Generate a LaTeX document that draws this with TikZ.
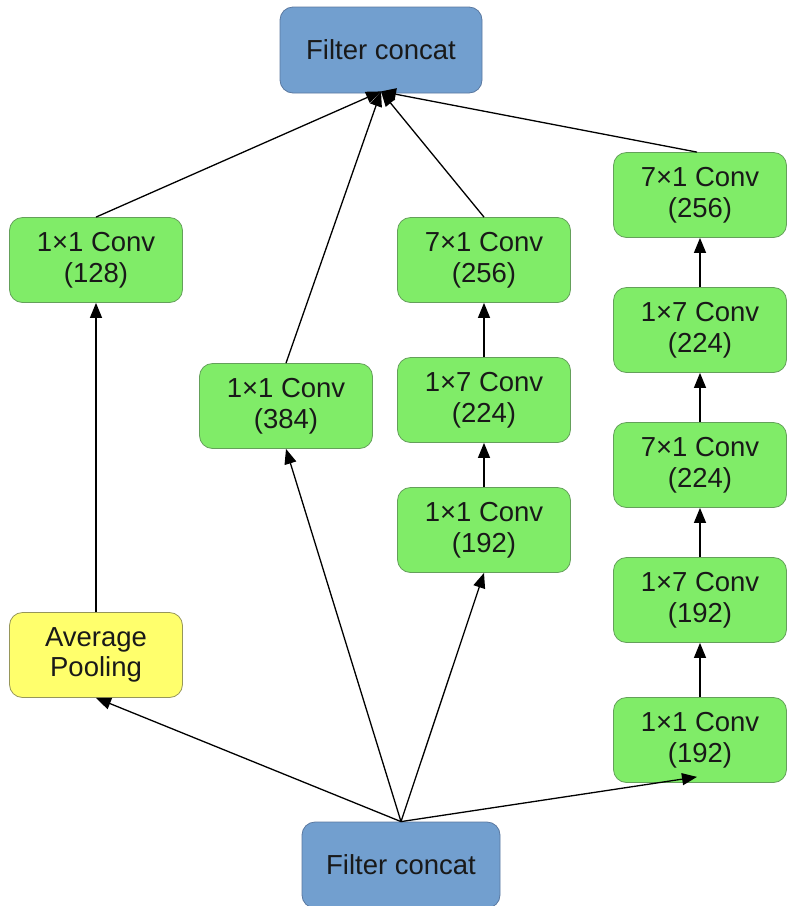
\documentclass[tikz,border=0pt]{standalone}
\usepackage{fontspec}
\setmainfont{Liberation Sans}
\usetikzlibrary{arrows.meta}
\definecolor{concatfill}{RGB}{114,159,207}
\definecolor{concatline}{RGB}{90,120,160}
\definecolor{convfill}{RGB}{128,236,104}
\definecolor{convline}{RGB}{100,160,90}
\definecolor{poolfill}{RGB}{255,255,108}
\definecolor{poolline}{RGB}{150,150,90}
\begin{document}
\begin{tikzpicture}[x=1pt,y=-1pt,
  box/.style={rectangle, rounded corners=13pt, line width=0.8pt, align=center,
    minimum width=173pt, minimum height=85pt, inner sep=0pt,
    font=\fontsize{27.5}{30.5}\selectfont, text=black!90},
  concat/.style={box, fill=concatfill, draw=concatline},
  conv/.style={box, fill=convfill, draw=convline},
  pool/.style={box, fill=poolfill, draw=poolline},
  link/.style={line width=1.3pt, -{Triangle[length=15pt,width=12pt]}}]
\useasboundingbox (0,0) rectangle (788,906);

% output and input concatenation
\node[concat, minimum width=202pt, minimum height=86pt] (top) at (381,50) {Filter concat};
\node[concat, minimum width=198pt, minimum height=86pt] (bot) at (401,865) {Filter concat};

% branch 1: pooling then 1x1
\node[conv] (b1a) at (96,260) {1×1 Conv\\(128)};
\node[pool] (b1p) at (96,655) {Average\\Pooling};

% branch 2: single 1x1
\node[conv] (b2a) at (286,406) {1×1 Conv\\(384)};

% branch 3: 1x1, 1x7, 7x1
\node[conv] (b3c) at (484,260) {7×1 Conv\\(256)};
\node[conv] (b3b) at (484,400) {1×7 Conv\\(224)};
\node[conv] (b3a) at (484,530) {1×1 Conv\\(192)};

% branch 4: 1x1 then alternating 1x7 / 7x1
\node[conv] (b4e) at (700,195) {7×1 Conv\\(256)};
\node[conv] (b4d) at (700,330) {1×7 Conv\\(224)};
\node[conv] (b4c) at (700,465) {7×1 Conv\\(224)};
\node[conv] (b4b) at (700,600) {1×7 Conv\\(192)};
\node[conv] (b4a) at (700,740) {1×1 Conv\\(192)};

% fan-out from the input
\draw[link] (bot.north) -- (b1p.south);
\draw[link] (bot.north) -- (b2a.south);
\draw[link] (bot.north) -- (b3a.south);
\draw[link] (bot.north) -- ([xshift=-3pt,yshift=6pt]b4a.south);

% inside the branches
\draw[link] (b1p.north) -- (b1a.south);
\draw[link] (b3a.north) -- (b3b.south);
\draw[link] (b3b.north) -- (b3c.south);
\draw[link] (b4a.north) -- (b4b.south);
\draw[link] (b4b.north) -- (b4c.south);
\draw[link] (b4c.north) -- (b4d.south);
\draw[link] (b4d.north) -- (b4e.south);

% fan-in to the output
\coordinate (tin) at ([yshift=2pt]top.south);
\draw[link] (b1a.north) -- (tin);
\draw[link] (b2a.north) -- (tin);
\draw[link] (b3c.north) -- (tin);
\draw[link] ([xshift=-3pt]b4e.north) -- (tin);
\end{tikzpicture}
\end{document}
